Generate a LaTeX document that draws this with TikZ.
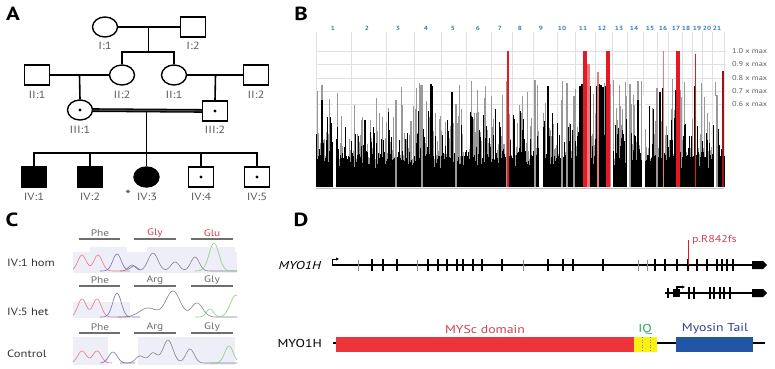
\documentclass[tikz,border=0pt]{standalone}
\usepackage{fontspec}
\setmainfont{PT Sans}[FakeStretch=1.2]
\usepackage{tikz}
\usetikzlibrary{shapes.geometric,arrows.meta}
\definecolor{GrisEtiqueta}{RGB}{95,95,95}
\definecolor{GrisCodon}{RGB}{110,110,110}
\definecolor{AzulCromo}{RGB}{55,125,185}
\definecolor{RojoPico}{RGB}{228,25,35}
\definecolor{RojoClaro}{RGB}{235,120,125}
\definecolor{RojoTexto}{RGB}{210,65,80}
\definecolor{RojoDominio}{RGB}{236,52,58}
\definecolor{AmarilloIQ}{RGB}{250,240,20}
\definecolor{VerdeIQ}{RGB}{45,165,100}
\definecolor{AzulCola}{RGB}{35,85,165}
\definecolor{AzulTexto}{RGB}{50,65,145}
\definecolor{FondoCroma}{RGB}{238,238,248}
\definecolor{TrazoRojo}{RGB}{230,120,130}
\definecolor{TrazoAzul}{RGB}{115,115,185}
\definecolor{TrazoGris}{RGB}{130,130,140}
\definecolor{TrazoVerde}{RGB}{140,205,130}
\tikzset{
  varon/.style={draw,line width=1.4pt,minimum width=25pt,minimum height=20pt,inner sep=0pt},
  mujer/.style={ellipse,draw,line width=1.4pt,minimum width=25pt,minimum height=20pt,inner sep=0pt},
  afectado/.style={fill=black},
  ped/.style={font=\fontsize{10.5}{10.5}\selectfont,text=GrisEtiqueta,inner sep=0pt},
  letra/.style={font=\fontsize{19}{19}\selectfont\bfseries,inner sep=0pt},
  cromo/.style={font=\fontsize{6}{6}\selectfont\bfseries,text=AzulCromo,inner sep=0pt},
  umbral/.style={font=\fontsize{7}{7}\selectfont,text=GrisEtiqueta,anchor=west,inner sep=0pt},
  codon/.style={font=\fontsize{9.5}{9.5}\selectfont,text=GrisCodon,inner sep=0pt},
  fila/.style={font=\fontsize{10.5}{10.5}\selectfont,text=black!80,anchor=west,inner sep=0pt},
  dominio/.style={font=\fontsize{11.5}{11.5}\selectfont,inner sep=0pt},
  linea/.style={line width=1.6pt}
}
\newcommand\portador[1]{\fill (#1.center) circle (1.7pt);}
\begin{document}
\begin{tikzpicture}[x=1pt,y=-1pt,>=Latex]
  \useasboundingbox (0,0) rectangle (775,368);
  \fill[white] (0,0) rectangle (775,368);
  \begin{scope}
    \node[letra] (letraA) at (13,14) {A};
    \node[mujer] (i1) at (105,27) {};
    \node[varon] (i2) at (193,27) {};
    \node[varon] (ii1) at (37,75) {};
    \node[mujer] (ii2) at (122,75) {};
    \node[mujer] (ii3) at (174,75) {};
    \node[varon] (ii4) at (256,75) {};
    \node[mujer] (iii1) at (80,110) {};
    \node[varon] (iii2) at (215,111) {};
    \node[varon,afectado] (iv1) at (34,177) {};
    \node[varon,afectado] (iv2) at (90,177) {};
    \node[mujer,afectado] (iv3) at (146.5,177) {};
    \node[varon] (iv4) at (201,177) {};
    \node[varon] (iv5) at (257,177) {};
    \portador{iii1} \portador{iii2} \portador{iv4} \portador{iv5}
    \node[ped] (li1) at (105,46) {I:1};
    \node[ped] (li2) at (193,46) {I:2};
    \node[ped] (lii1) at (37,95) {II:1};
    \node[ped] (lii2) at (122,95) {II:2};
    \node[ped] (lii3) at (174,95) {II:1};
    \node[ped] (lii4) at (256,95) {II:2};
    \node[ped] (liii1) at (80,130) {III:1};
    \node[ped] (liii2) at (215,130) {III:2};
    \node[ped] (liv1) at (34,197) {IV:1};
    \node[ped] (liv2) at (90,197) {IV:2};
    \node[ped] (liv3) at (147,197) {IV:3};
    \node[ped] (liv4) at (201,197) {IV:4};
    \node[ped] (liv5) at (257,197) {IV:5};
    \node[ped,text=black!75,font=\fontsize{13}{13}\selectfont] (ast) at (128,195) {*};
    \coordinate (m1) at (148.5,27);
    \coordinate (s1) at (148.5,52);
    \coordinate (m2) at (79.5,75);
    \coordinate (m3) at (215.5,75);
    \coordinate (m4) at (146.5,111);
    \coordinate (s4) at (146.5,153);
    \draw[linea] (i1) -- (i2);
    \draw[linea] (m1) -- (s1);
    \draw[linea] (ii2.north) |- (s1) -| (ii3.north);
    \draw[linea] (ii1) -- (ii2);
    \draw[linea] (ii3) -- (ii4);
    \draw[linea] (m2) -- (iii1.north);
    \draw[linea] (m3) -- (iii2.north);
    \draw[line width=1.3pt,double=black!70,double distance=1.2pt] (iii1) -- (iii2);
    \draw[linea] (m4) -- (s4) -- (iv3.north);
    \draw[linea] (iv1.north) |- (s4) -| (iv5.north);
    \draw[linea] (iv2.north) -- (iv2.north |- s4);
    \draw[linea] (iv4.north) -- (iv4.north |- s4);
  \end{scope}
  \begin{scope}
    \node[letra] (letraB) at (301,14) {B};
    \foreach \xg in {316,351,386,414,441,466,491,512,533,557,575,595,612,627,643,657,668,682,692,702,712,724}
      \draw[black!12,line width=0.6pt] (\xg,32) -- (\xg,187);
    \foreach \yg/\et in {51/1.0,64/0.9,78/0.8,91/0.7,104/0.6}{
      \draw[black!12,line width=0.6pt] (316,\yg) -- (726,\yg);
      \node[umbral] (u\et) at (732,\yg) {\et\ x max};
    }
    \foreach \xc/\nc in {333/1,367/2,398/3,426/4,453/5,478/6,500/7,520/8,541/9,562/10,583/11,602/12,619/13,634/14,650/15,663/16,676/17,686/18,697/19,707/20,717/21}
      \node[cromo] (c\nc) at (\xc,28) {\nc};
    \pgfmathsetseed{11}
    \foreach \xp in {316,316.8,...,724}{
      \pgfmathsetmacro\hp{28+80*rnd^3}
      \draw[black!40,line width=0.6pt] (\xp,187) -- ++(0,-\hp);
    }
    \foreach \xp in {316,316.5,...,724}{
      \pgfmathsetmacro\hp{16+16*rnd+50*rnd^5}
      \draw[black,line width=0.6pt] (\xp,187) -- ++(0,-\hp);
    }
    \foreach \xp/\yp in {322/85,422/85,507/81,535/80,567/83,610/84,630/84,638/81,657/88,717/95,396/100,562/100,574/96,456/104,590/90}
      \draw[black!40,line width=1.1pt] (\xp,187) -- (\xp,\yp);
    \foreach \xp/\yp in {322/100,431/84,432/86,452/92,548/86,580/86,582/84,584/82,588/83,590/86,597/86,599/84,601/85,603/87,606/86,663/88,676/90,695/86,723/87,638/100,660/92}
      \draw[black,line width=1.3pt] (\xp,187) -- (\xp,\yp);
    \foreach \xa/\xb in {333/336,539/543,610.5/612.5,627/629,642/645,714/716}
      \fill[white] (\xa,96) rectangle (\xb,188);
    \draw[black!25,line width=0.6pt] (316,188.5) -- (724,188.5);
    \fill[RojoClaro] (587,64) rectangle (589.5,187);
    \fill[RojoClaro] (597,72) rectangle (599,187);
    \fill[RojoPico] (583,51) rectangle (587,187);
    \fill[RojoPico] (606,51) rectangle (610,187);
    \fill[RojoPico] (676,51) rectangle (680,187);
    \draw[RojoPico,line width=1.2pt] (508,51) -- (508,187);
    \draw[RojoClaro,line width=1pt] (663,51) -- (663,187);
    \draw[RojoPico,line width=1pt] (695,54) -- (695,187);
    \draw[RojoPico!70!black,line width=1.2pt] (723,71) -- (723,187);
  \end{scope}
  \begin{scope}
    \node[letra] (letraC) at (12,220) {C};
    \fill[FondoCroma] (73,252) rectangle (237,273);
    \fill[FondoCroma] (90,247) rectangle (127,252);
    \fill[FondoCroma] (147,247) rectangle (235,252);
    \fill[FondoCroma] (73,302) rectangle (130,318);
    \fill[FondoCroma] (73,337) rectangle (108,365);
    \fill[FondoCroma] (138,337) rectangle (235,365);
    \foreach \yf/\fa/\fb/\fc/\ca/\cb in {233/Phe/Gly/Glu/RojoTexto/RojoTexto,280/Phe/Arg/Gly/GrisCodon/GrisCodon,327/Phe/Arg/Gly/GrisCodon/GrisCodon}{
      \node[codon] (fa\yf) at (100,\yf) {\fa};
      \node[codon,text=\ca] (fb\yf) at (155,\yf) {\fb};
      \node[codon,text=\cb] (fc\yf) at (212,\yf) {\fc};
      \draw[GrisCodon,line width=1.8pt] (79,\yf+6) -- (120,\yf+6);
      \draw[GrisCodon,line width=1.8pt] (134,\yf+6) -- (176,\yf+6);
      \draw[GrisCodon,line width=1.8pt] (191,\yf+6) -- (233,\yf+6);
    }
    \node[fila] (hom) at (7,263) {IV:1 hom};
    \node[fila] (het) at (7,312) {IV:5 het};
    \node[fila] (ctrl) at (7,354) {Control};
    \draw[TrazoRojo,line width=0.6pt] plot[domain=73:130,samples=60,smooth] (\x,{271-16*exp(-((\x-82)/6)^2)-16*exp(-((\x-98)/6)^2)});
    \draw[TrazoAzul,line width=0.6pt] plot[domain=100:140,samples=40,smooth] (\x,{271-17*exp(-((\x-117)/6)^2)-5*exp(-((\x-134)/5)^2)});
    \draw[TrazoGris,line width=0.6pt] plot[domain=120:237,samples=90,smooth] (\x,{271-6*exp(-((\x-132)/5)^2)-18*exp(-((\x-153)/7)^2)-9*exp(-((\x-175)/6)^2)-14*exp(-((\x-195)/6)^2)});
    \draw[TrazoVerde,line width=0.6pt] plot[domain=195:237,samples=40,smooth] (\x,{271-28*exp(-((\x-214)/7)^2)});
    \draw[TrazoRojo,line width=0.6pt] plot[domain=73:130,samples=60,smooth] (\x,{317-18*exp(-((\x-82)/6)^2)-18*exp(-((\x-97)/6)^2)});
    \draw[TrazoAzul,line width=0.6pt] plot[domain=100:140,samples=40,smooth] (\x,{317-24*exp(-((\x-117)/6)^2)});
    \draw[TrazoGris,line width=0.6pt] plot[domain=118:237,samples=90,smooth] (\x,{317-9*exp(-((\x-148)/12)^2)-26*exp(-((\x-173)/10)^2)-14*exp(-((\x-197)/8)^2)});
    \draw[TrazoVerde,line width=0.6pt] plot[domain=195:237,samples=40,smooth] (\x,{317-8*exp(-((\x-210)/5)^2)-22*exp(-((\x-236)/8)^2)});
    \draw[TrazoRojo,line width=0.6pt] plot[domain=73:112,samples=50,smooth] (\x,{363-12*exp(-((\x-82)/6)^2)-12*exp(-((\x-97)/6)^2)});
    \draw[TrazoAzul,line width=0.6pt] plot[domain=100:135,samples=40,smooth] (\x,{363-11*exp(-((\x-113)/6)^2)});
    \draw[TrazoGris,line width=0.6pt] plot[domain=120:237,samples=90,smooth] (\x,{363-7*exp(-((\x-140)/6)^2)-10*exp(-((\x-153)/6)^2)-23*exp(-((\x-168)/7)^2)-14*exp(-((\x-190)/6)^2)});
    \draw[TrazoVerde,line width=0.6pt] plot[domain=210:237,samples=30,smooth] (\x,{363-17*exp(-((\x-229)/6)^2)});
  \end{scope}
  \begin{scope}
    \node[letra] (letraD) at (301,220) {D};
    \node[dominio,anchor=east,font=\fontsize{11.5}{11.5}\selectfont\itshape] (gen) at (321,265) {MYO1H};
    \node[dominio,anchor=east] (prot) at (322,343) {MYO1H};
    \draw[line width=1.3pt] (332,265) -- (755,265);
    \draw[-{Latex[length=3pt,width=3.5pt]},line width=1pt] (332,266) -- (332,259) -- (339,259);
    \foreach \xt in {358,417,523,638,647}
      \draw[black!45,line width=0.9pt] (\xt,259.5) -- (\xt,270.5);
    \foreach \xt in {372,383,397,428,438,447,457,463,473,482,502,548,563,573,603,655,665,677,688,697,707,717,722,727,733}
      \draw[line width=1.2pt] (\xt,259) -- (\xt,271);
    \fill (752,261) -- (763,261) -- (767,265) -- (763,269) -- (752,269) -- cycle;
    \coordinate (mutbase) at (688,265);
    \coordinate (muttop) at (688,240);
    \draw[RojoPico,line width=1pt] (mutbase) -- (muttop);
    \node[dominio,text=RojoTexto,anchor=west,font=\fontsize{10}{10}\selectfont] (mut) at (692,240) {p.R842fs};
    \draw[line width=1.3pt] (665,293) -- (755,293);
    \draw[line width=1.2pt] (668,288) -- (668,298);
    \fill (673,289) rectangle (680,297);
    \draw[-{Latex[length=3pt,width=3.5pt]},line width=1.2pt] (677,293) -- (677,287) -- (685,287);
    \foreach \xt in {689,694,710,714,720,724,730}
      \draw[line width=1.2pt] (\xt,287) -- (\xt,299);
    \fill (752,289) -- (763,289) -- (767,293) -- (763,297) -- (752,297) -- cycle;
    \draw[line width=1.3pt] (333,343) -- (765,343);
    \fill[RojoDominio] (336,337) rectangle (634,352);
    \fill[AmarilloIQ] (634,337) rectangle (657,352);
    \draw[black!50,line width=0.5pt,dotted] (642,337) -- (642,352);
    \draw[black!50,line width=0.5pt,dotted] (650,337) -- (650,352);
    \fill[AzulCola] (676,337) rectangle (753,352);
    \node[dominio,text=RojoTexto] (mysc) at (485,329) {MYSc domain};
    \node[dominio,text=VerdeIQ] (iq) at (645,329) {IQ};
    \node[dominio,text=AzulTexto] (cola) at (715,329) {Myosin Tail};
  \end{scope}
\end{tikzpicture}
\end{document}
